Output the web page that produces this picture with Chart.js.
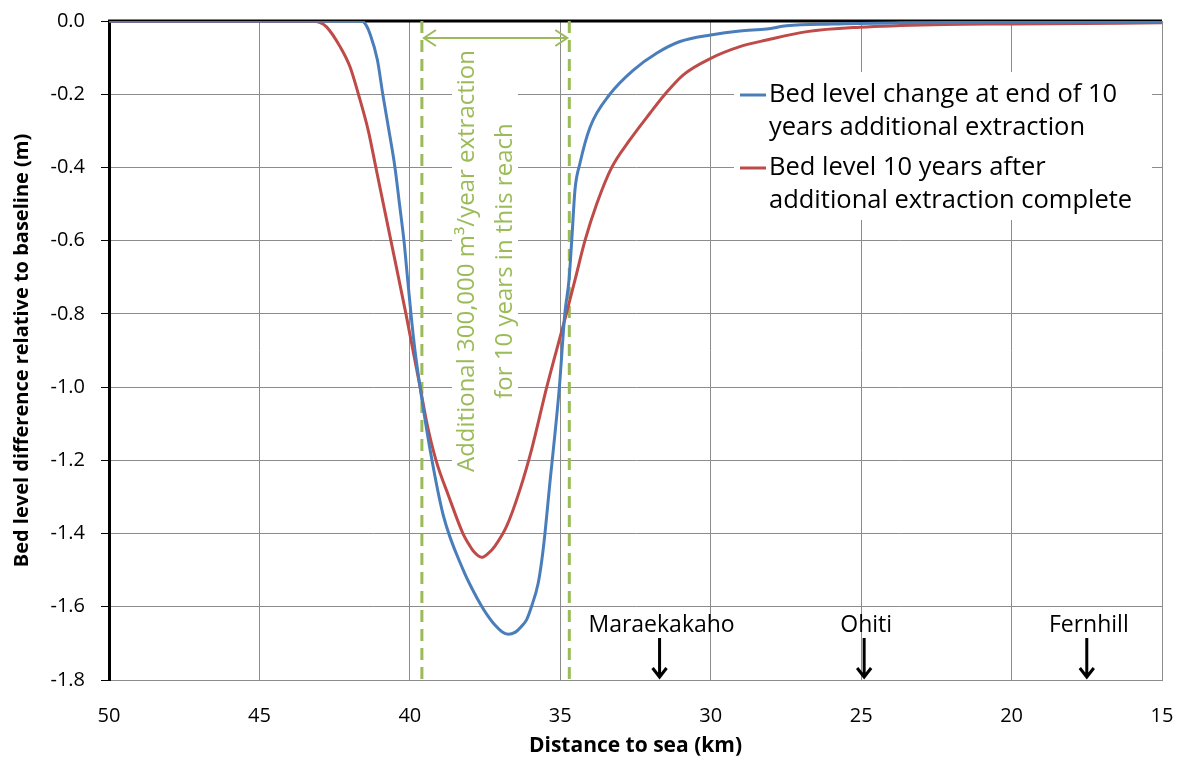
<!DOCTYPE html>
<html>
<head>
<meta charset="utf-8">
<script src="https://cdn.jsdelivr.net/npm/chart.js@4.4.1/dist/chart.umd.min.js"></script>
<style>
  html, body { margin: 0; padding: 0; background: #fff; }
  canvas { display: block; }
</style>
</head>
<body>
<canvas id="bedChart" width="1183" height="763"></canvas>
<script>
// distance to sea (km) and bed level difference (m)
const blueKm = [50, 45, 41.6, 41.45, 41.33, 41.08, 40.9, 40.66, 40.495, 40.345, 40.196, 40.08, 39.963, 39.83, 39.66, 39.33, 38.89, 38.225, 37.936, 37.604, 37.448, 37.172, 36.939, 36.73, 36.507, 36.308, 36.118, 35.959, 35.733, 35.61, 35.51, 35.344, 35.23, 35.03, 34.85, 34.71, 34.62, 34.51, 34.35, 34.01, 33.35, 32.57, 31.8, 31.02, 30.0, 29.03, 28.14, 27.48, 25.93, 23.7, 20, 15];
const blueVal = [0, 0, 0, -0.012, -0.034, -0.106, -0.2, -0.316, -0.4, -0.5, -0.6, -0.7, -0.8, -0.9, -1.0, -1.17, -1.35, -1.5, -1.55, -1.6, -1.62, -1.65, -1.668, -1.675, -1.67, -1.655, -1.635, -1.6, -1.535, -1.47, -1.4, -1.26, -1.17, -1.0, -0.8, -0.707, -0.6, -0.46, -0.39, -0.29, -0.2, -0.134, -0.088, -0.056, -0.038, -0.027, -0.022, -0.013, -0.008, -0.005, -0.003, -0.002];

const redKm = [50, 45, 43.3, 43.0, 42.77, 42.32, 41.99, 41.71, 41.38, 41.13, 40.63, 40.13, 39.66, 39.43, 39.13, 38.7, 38.235, 38.07, 37.87, 37.614, 37.405, 37.172, 36.783, 36.341, 35.952, 35.45, 34.8, 34.51, 34.18, 33.79, 33.29, 32.69, 32.02, 31.52, 30.91, 30.0, 29.03, 28.14, 26.8, 25.04, 22.6, 20, 15];
const redVal = [0, 0, 0, -0.004, -0.016, -0.07, -0.125, -0.2, -0.3, -0.4, -0.6, -0.8, -1.0, -1.1, -1.2, -1.3, -1.4, -1.425, -1.45, -1.465, -1.455, -1.434, -1.38, -1.28, -1.17, -1.0, -0.8, -0.707, -0.6, -0.5, -0.4, -0.325, -0.252, -0.2, -0.147, -0.102, -0.07, -0.052, -0.029, -0.017, -0.01, -0.008, -0.005];

const seriesLabels = [
  ['Bed level change at end of 10', 'years additional extraction'],
  ['Bed level 10 years after', 'additional extraction complete']
];
const seriesColors = ['#4A7EBB', '#BE4B48'];

const reachKm = [39.6, 34.7];
const reachText = ['Additional 300,000 m\u00B3/year extraction', 'for 10 years in this reach'];

const placeNames = ['Maraekakaho', 'Ohiti', 'Fernhill'];
const placeKm = [31.7, 24.9, 17.5];

const FONT = '"Open Sans", "DejaVu Sans", sans-serif';
const GREEN = '#9BBB59';

function toPoints(km, vals) {
  return km.map((k, i) => ({ x: k, y: vals[i] }));
}

const extras = {
  id: 'extras',
  beforeDatasetsDraw(chart) {
    const { ctx, chartArea, scales } = chart;
    const x = scales.x, y = scales.y;
    ctx.save();
    // axis line at zero (top)
    ctx.strokeStyle = '#000';
    ctx.lineWidth = 3;
    ctx.beginPath();
    ctx.moveTo(chartArea.left - 1, y.getPixelForValue(0));
    ctx.lineTo(chartArea.right, y.getPixelForValue(0));
    ctx.stroke();

    // reach text box
    const x1 = x.getPixelForValue(reachKm[0]);
    const x2 = x.getPixelForValue(reachKm[1]);
    ctx.fillStyle = '#fff';
    ctx.fillRect(452, 46, 66, 440);

    // dashed reach lines
    ctx.strokeStyle = GREEN;
    ctx.lineWidth = 3;
    ctx.setLineDash([12, 7]);
    [x1, x2].forEach(px => {
      ctx.beginPath();
      ctx.moveTo(px, chartArea.top);
      ctx.lineTo(px, chartArea.bottom);
      ctx.stroke();
    });
    ctx.setLineDash([]);

    // double arrow
    const ay = 38;
    ctx.lineWidth = 2;
    ctx.beginPath();
    ctx.moveTo(x1 + 2, ay);
    ctx.lineTo(x2 - 2, ay);
    ctx.moveTo(x1 + 14, ay - 8);
    ctx.lineTo(x1 + 2, ay);
    ctx.lineTo(x1 + 14, ay + 8);
    ctx.moveTo(x2 - 14, ay - 8);
    ctx.lineTo(x2 - 2, ay);
    ctx.lineTo(x2 - 14, ay + 8);
    ctx.stroke();

    // rotated text
    ctx.fillStyle = GREEN;
    ctx.font = '24px ' + FONT;
    ctx.textAlign = 'center';
    ctx.textBaseline = 'middle';
    ctx.translate(486, 261);
    ctx.rotate(-Math.PI / 2);
    ctx.fillText(reachText[0], 0, -19);
    ctx.fillText(reachText[1], 0, 19);
    ctx.restore();
  },
  afterDraw(chart) {
    const { ctx, scales } = chart;
    const x = scales.x;
    ctx.save();

    // legend
    ctx.fillStyle = '#fff';
    ctx.fillRect(734, 72, 418, 148);
    ctx.font = '25.5px ' + FONT;
    ctx.textAlign = 'left';
    ctx.textBaseline = 'middle';
    seriesLabels.forEach((lines, i) => {
      const top = 95 + i * 73;
      ctx.strokeStyle = seriesColors[i];
      ctx.lineWidth = 3;
      ctx.beginPath();
      ctx.moveTo(740, top);
      ctx.lineTo(766, top);
      ctx.stroke();
      ctx.fillStyle = '#000';
      lines.forEach((t, j) => ctx.fillText(t, 769, top + j * 33));
    });

    // place markers
    ctx.strokeStyle = '#000';
    ctx.fillStyle = '#000';
    ctx.lineWidth = 3;
    ctx.font = '23px ' + FONT;
    ctx.textAlign = 'center';
    placeNames.forEach((name, i) => {
      const px = x.getPixelForValue(placeKm[i]);
      ctx.fillText(name, px + 2, 625);
      ctx.beginPath();
      ctx.moveTo(px, 638);
      ctx.lineTo(px, 677);
      ctx.moveTo(px - 7, 668);
      ctx.lineTo(px, 677);
      ctx.lineTo(px + 7, 668);
      ctx.stroke();
    });
    ctx.restore();
  }
};

new Chart(document.getElementById('bedChart'), {
  type: 'line',
  data: {
    datasets: [
      {
        label: seriesLabels[0].join(' '),
        data: toPoints(blueKm, blueVal),
        borderColor: seriesColors[0],
        borderWidth: 3,
        pointRadius: 0,
        cubicInterpolationMode: 'monotone',
        fill: false
      },
      {
        label: seriesLabels[1].join(' '),
        data: toPoints(redKm, redVal),
        borderColor: seriesColors[1],
        borderWidth: 3,
        pointRadius: 0,
        cubicInterpolationMode: 'monotone',
        fill: false
      }
    ]
  },
  options: {
    responsive: false,
    animation: false,
    devicePixelRatio: 1,
    layout: { padding: { top: 21, right: 21, left: 0, bottom: 0 } },
    plugins: {
      legend: { display: false },
      tooltip: { enabled: false }
    },
    scales: {
      x: {
        type: 'linear',
        reverse: true,
        min: 15,
        max: 50,
        ticks: { stepSize: 5, color: '#000', font: { size: 20, family: FONT }, padding: 24 },
        grid: { color: '#8c8c8c', drawTicks: false },
        border: { color: '#8c8c8c' },
        title: { display: true, text: 'Distance to sea (km)', color: '#000', font: { size: 21, weight: 'bold', family: FONT }, padding: { top: 0, bottom: 4 } },
        afterFit: s => { s.height = 83; s.paddingLeft = 0; s.paddingRight = 0; }
      },
      y: {
        min: -1.8,
        max: 0,
        ticks: {
          stepSize: 0.2,
          color: '#000',
          font: { size: 20, family: FONT },
          padding: 16,
          callback: v => Math.abs(v) < 1e-9 ? '0.0' : v.toFixed(1)
        },
        grid: { color: '#8c8c8c', tickColor: '#000', tickLength: 8 },
        border: { color: '#000', width: 3 },
        title: { display: true, text: 'Bed level difference relative to baseline (m)', color: '#000', font: { size: 20, weight: 'bold', family: FONT }, padding: { top: 10, bottom: 0 } },
        afterFit: s => { s.width = 109; s.paddingTop = 0; s.paddingBottom = 0; }
      }
    }
  },
  plugins: [extras]
});
</script>
</body>
</html>
